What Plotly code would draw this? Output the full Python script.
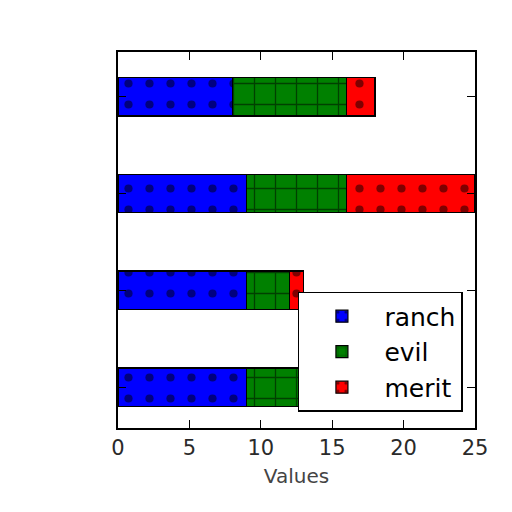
import plotly.graph_objects as go

positions = [0, 1, 2, 3]
ranch = [9, 9, 9, 8]
evil = [8, 3, 7, 8]
merit = [4, 1, 9, 2]
series = [("ranch", ranch, "#0000ff", "."), ("evil", evil, "#008000", "+"), ("merit", merit, "#ff0000", ".")]
xticks = [0, 5, 10, 15, 20, 25]

fig = go.Figure()
for name, vals, col, shape in series:
    fig.add_trace(go.Bar(
        y=positions, x=vals, name=name, orientation="h", width=0.4,
        marker=dict(color=col, line=dict(color="black", width=1.2),
                    pattern=dict(shape=shape, fgcolor="black", bgcolor=col,
                                 size=21, solidity=0.12, fillmode="overlay")),
    ))

fig.update_layout(
    barmode="stack", width=512, height=512,
    margin=dict(l=110, r=45, t=44, b=92),
    paper_bgcolor="white", plot_bgcolor="white",
    font=dict(family="DejaVu Sans", color="#333333"),
    showlegend=True,
    legend=dict(x=0.504, y=0.362, xanchor="left", yanchor="top",
                bordercolor="black", borderwidth=1.5, bgcolor="white",
                font=dict(size=25, color="black"), traceorder="normal",
                itemwidth=75, tracegroupgap=9),
    bargap=0.6,
)
fig.update_xaxes(range=[0, 25], tickvals=xticks, ticks="inside", ticklen=8,
                 tickcolor="black", mirror="allticks", showline=True, linecolor="black",
                 linewidth=1.5, showgrid=False, zeroline=False,
                 tickfont=dict(size=21, color="#2a2a2a"),
                 title=dict(text="Values", font=dict(size=20, color="#444444"), standoff=10))
fig.update_yaxes(range=[-0.42, 3.46], tickvals=positions, showticklabels=False,
                 ticks="inside", ticklen=8, tickcolor="black", mirror="allticks",
                 showline=True, linecolor="black", linewidth=1.5, showgrid=False,
                 zeroline=False)
fig.write_html("out.html")
